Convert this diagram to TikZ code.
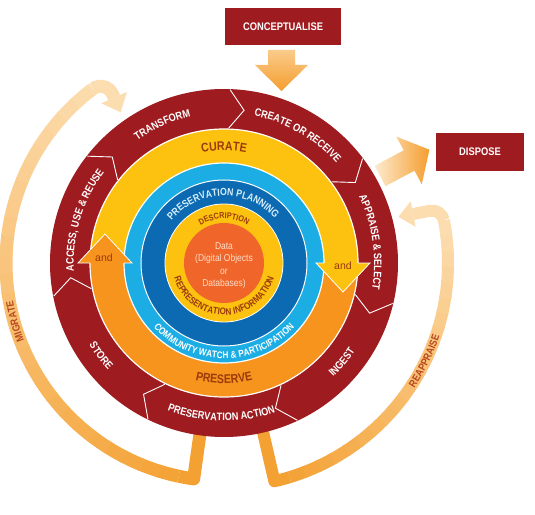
\documentclass[tikz,border=0pt]{standalone}
\usepackage{fontspec}
\setmainfont{Liberation Sans}
\newfontfamily\cond[FakeStretch=0.85]{Liberation Sans}
\usetikzlibrary{decorations.text,calc}
\definecolor{dred}{HTML}{9E1B20}
\definecolor{curY}{HTML}{FDC20F}
\definecolor{presO}{HTML}{F7941E}
\definecolor{lblue}{HTML}{1BADE3}
\definecolor{dblue}{HTML}{0C6AB2}
\definecolor{dataO}{HTML}{F0662A}
\definecolor{brownT}{HTML}{9A3A0C}
\definecolor{bandO}{HTML}{F4A133}
\definecolor{bandP}{HTML}{FCDDB0}
\definecolor{loopT}{HTML}{B9471C}
\definecolor{datT}{HTML}{FCDCC8}
\definecolor{planT}{HTML}{D6EFFB}
\newcommand\cwtext[5]{\path[decorate,decoration={text along path,text={|#4|#5},text align=center}] (#1+#3:#2) arc[start angle=#1+#3,end angle=#1-#3,radius=#2pt];}
\newcommand\ccwtext[5]{\path[decorate,decoration={text along path,text={|#4|#5},text align=center}] (#1-#3:#2) arc[start angle=#1-#3,end angle=#1+#3,radius=#2pt];}
\newcommand\ringfont{\cond\bfseries\fontsize{10.8}{12}\selectfont\color{white}}
\newcommand\loopfont{\cond\bfseries\fontsize{10.5}{12}\selectfont\color{loopT}}
\begin{document}
\begin{tikzpicture}[x=1pt,y=1pt,
  box/.style={fill=dred,text=white,font=\cond\bfseries\fontsize{11}{13}\selectfont,inner sep=0pt}]
\useasboundingbox (-224,-251) rectangle (311,263);
\fill[white] (-224,-251) rectangle (311,263);

% ---------- MIGRATE loop ----------
\draw[bandO,line width=13pt,line join=round] (-98:168) -- (-98:218) arc[start angle=-98,end angle=-102,radius=218pt];
\foreach \i in {0,...,26}{
  \pgfmathsetmacro\aS{-102-5*\i}
  \pgfmathsetmacro\aE{max(\aS-5.5,-233)}
  \pgfmathtruncatemacro\pc{100*(\i+1)/27}
  \draw[line width=13pt,color=bandP!\pc!bandO] (\aS:218) arc[start angle=\aS,end angle=\aE,radius=218pt];
}
\draw[bandP,line width=13pt] (127:218) arc[start angle=127,end angle=24,radius=13pt] coordinate (mE) -- ++(-66:4) coordinate (mB);
\fill[bandP] ($(mB)+(24:14)$) -- ($(mB)+(-66:16)$) -- ($(mB)+(204:14)$) -- cycle;
\cwtext{195.6}{214.3}{30}{\loopfont}{MIGRATE}

% ---------- REAPPRAISE loop ----------
\draw[bandO,line width=12pt,line join=round] (-77:168) -- (-77:224) arc[start angle=-77,end angle=-73,radius=224pt];
\foreach \i in {0,...,20}{
  \pgfmathsetmacro\aS{-73+4*\i}
  \pgfmathsetmacro\aE{min(\aS+4.5,11)}
  \pgfmathtruncatemacro\pc{100*(\i+1)/21}
  \draw[line width=12pt,color=bandP!\pc!bandO] (\aS:224) arc[start angle=\aS,end angle=\aE,radius=224pt];
}
\draw[bandP,line width=12pt] (11:224) arc[start angle=11,end angle=101,radius=12pt] coordinate (rE) -- ++(191:17) coordinate (rB);
\fill[bandP] ($(rB)+(101:13)$) -- ($(rB)+(191:15)$) -- ($(rB)+(281:13)$) -- cycle;
\ccwtext{-26}{227.7}{30}{\loopfont}{REAPPRAISE}

% ---------- boxes and their arrows ----------
\node[box,minimum width=116pt,minimum height=37pt] (concept) at (59,236.5) {CONCEPTUALISE};
\shade[top color=bandP!70!bandO,bottom color=bandO!90!orange]
  (44,213) -- (71,213) -- (71,198) -- (84,198) -- (57.5,172) -- (31,198) -- (44,198) -- cycle;
\node[box,minimum width=88pt,minimum height=38pt] (dispose) at (256,111) {DISPOSE};
\shade[left color=bandP!60!white,right color=bandO!90!orange]
  (150.6,97.15) -- (179.7,112.65) -- (172.42,126.34) -- (205.4,113.3) -- (197.78,78.66) -- (190.5,92.35) -- (161.4,76.85) -- cycle;

% ---------- rings ----------
\fill[dred] (0,0) circle[radius=174pt];
\fill[curY] (134,0) arc[start angle=0,end angle=180,radius=134pt] -- cycle;
\fill[presO] (-134,0) arc[start angle=180,end angle=360,radius=134pt] -- cycle;
\draw[white,line width=1.2pt] (0,0) circle[radius=134pt];
\fill[lblue,draw=white,line width=1.2pt] (0,0) circle[radius=100pt];
\fill[dblue,draw=white,line width=1pt] (0,0) circle[radius=83pt];
\fill[curY,draw=white,line width=0.8pt] (0,0) circle[radius=59pt];
\fill[dataO] (0,0) circle[radius=40pt];

% arrowheads of CURATE / PRESERVE band
\fill[presO] (-146,0) -- (-119,29) -- (-92,0) -- cycle;
\draw[white,line width=0.8pt] (-134,0) -- (-146,0) -- (-119,29) -- (-92,0) -- (-100,0);
\fill[curY] (92,0) -- (119,-29) -- (146,0) -- cycle;
\draw[white,line width=0.8pt] (100,0) -- (92,0) -- (119,-29) -- (146,0) -- (134,0);

% chevrons on the outer ring
\foreach \b in {142,88,37,-13.5,-65,-116,-169}{
  \draw[white,line width=0.9pt] (\b:135) -- (\b-5.5:154) -- (\b:173.5);
}

% ---------- outer ring texts ----------
\cwtext{114}{150.2}{45}{\ringfont}{TRANSFORM}
\cwtext{60}{150.2}{45}{\ringfont}{CREATE OR RECEIVE}
\cwtext{8}{150.2}{45}{\ringfont}{APPRAISE {\&} SELECT}
\ccwtext{-40}{157.8}{45}{\ringfont}{INGEST}
\ccwtext{-91}{157.8}{45}{\ringfont}{PRESERVATION ACTION}
\ccwtext{-143}{157.8}{45}{\ringfont}{STORE}
\cwtext{163}{150.2}{45}{\ringfont}{ACCESS, USE {\&} REUSE}

% ---------- band texts ----------
\cwtext{90}{112.5}{40}{\cond\bfseries\fontsize{12.5}{14}\selectfont\color{brownT}}{CURATE}
\ccwtext{-90}{120.6}{40}{\cond\bfseries\fontsize{12.5}{14}\selectfont\color{brownT}}{PRESERVE}
\node[font=\fontsize{10.5}{12}\selectfont,text=brownT,inner sep=0pt] (andL) at (-120,5) {and};
\node[font=\fontsize{10.5}{12}\selectfont,text=brownT,inner sep=0pt] (andR) at (119,-3) {and};

% ---------- inner rings texts ----------
\cwtext{91}{67.2}{80}{\cond\bfseries\fontsize{10.3}{12}\selectfont\color{planT}}{PRESERVATION PLANNING}
\ccwtext{-90}{95.4}{85}{\cond\bfseries\fontsize{9.7}{11}\selectfont\color{white}}{COMMUNITY WATCH {\&} PARTICIPATION}
\cwtext{90}{44.2}{80}{\cond\bfseries\fontsize{8.5}{10}\selectfont\color{brownT}}{DESCRIPTION}
\ccwtext{-90}{52}{100}{\cond\bfseries\fontsize{9.5}{10}\selectfont\color{brownT}}{REPRESENTATION INFORMATION}

\node[align=center,text=datT,font=\cond\fontsize{10}{12.5}\selectfont,inner sep=0pt] (data) at (0,-2.5)
  {Data\\(Digital Objects\\or\\Databases)};
\end{tikzpicture}
\end{document}
